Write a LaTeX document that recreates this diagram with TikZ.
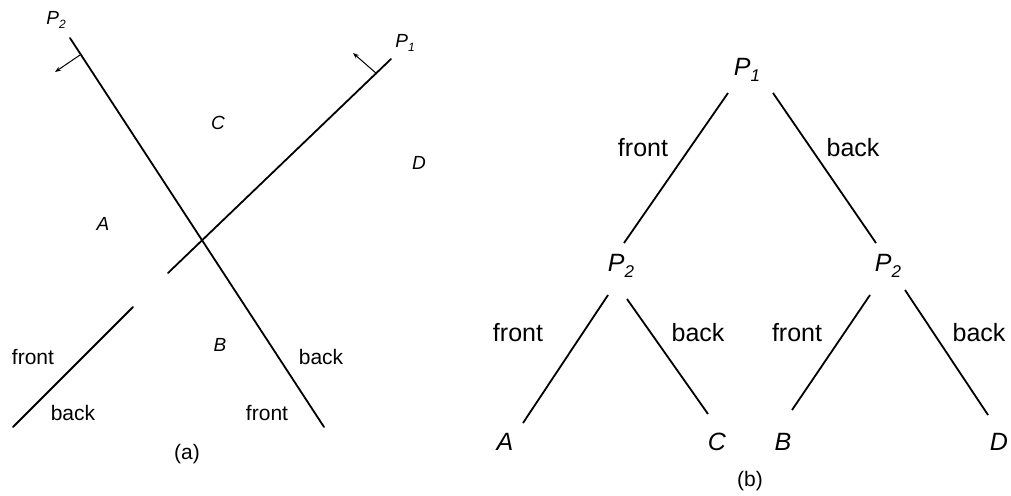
\documentclass[tikz,border=0pt]{standalone}
\usepackage{fontspec}
\setmainfont{Liberation Sans}
\usetikzlibrary{calc,arrows.meta}
\tikzset{
  seg/.style={line width=1.8pt, line cap=round},
  normalarrow/.style={line width=1pt, -{Stealth[length=6pt,width=4.5pt]}},
  lbl/.style={inner sep=0pt, font=\fontsize{21}{24}\selectfont},
  reg/.style={inner sep=0pt, font=\fontsize{19}{22}\selectfont\itshape},
  tlbl/.style={inner sep=0pt, font=\fontsize{25}{28}\selectfont},
  tnode/.style={inner sep=0pt, font=\fontsize{25}{28}\selectfont\itshape},
  edge/.style={line width=1.8pt}
}
\newcommand{\Plab}[2]{{\itshape P}\raisebox{-0.45ex}{\fontsize{#2}{#2}\selectfont #1}}
\begin{document}
\begin{tikzpicture}[x=1pt,y=-1pt]
\clip (0,0) rectangle (1011,495);
\fill[white] (0,0) rectangle (1011,495);
% ---------- (a) ----------
\coordinate (p2s) at (70,38);
\coordinate (p2e) at (324,427);
\coordinate (p1s) at (391,59);
\coordinate (p1e) at (168,273);
\coordinate (p1bs) at (133,307);
\coordinate (p1be) at (13,427);
\draw[seg] (p2s) -- (p2e);
\draw[seg] (p1s) -- (p1e);
\draw[seg] (p1bs) -- (p1be);
\coordinate (n2a) at (80,55);
\coordinate (n2b) at (55,72);
\coordinate (n1a) at (377,74);
\coordinate (n1b) at (353,53);
\draw[normalarrow] (n2a) -- (n2b);
\draw[normalarrow] (n1a) -- (n1b);
\node[reg] (lP2) at (56,20) {\Plab{2}{12}};
\node[reg] (lP1) at (405,43) {\Plab{1}{12}};
\node[reg] (lC) at (218,123) {C};
\node[reg] (lD) at (419,163) {D};
\node[reg] (lA) at (103,224) {A};
\node[reg] (lB) at (220,345) {B};
\node[lbl] (lf1) at (33,357) {front};
\node[lbl] (lb1) at (73,413) {back};
\node[lbl] (lb2) at (321,357) {back};
\node[lbl] (lf2) at (267,413) {front};
\node[lbl] (capa) at (187,454) {(a)};
% ---------- (b) ----------
\node[tnode] (P1) at (747,70) {\Plab{1}{17}};
\node[tnode] (P2a) at (621,266) {\Plab{2}{17}};
\node[tnode] (P2b) at (888,266) {\Plab{2}{17}};
\node[tnode] (A) at (505,442) {A};
\node[tnode] (C) at (717,442) {C};
\node[tnode] (B) at (783,442) {B};
\node[tnode] (D) at (999,442) {D};
\draw[edge] ($(P1)+(-19,23)$) -- ($(P2a)+(3,-23)$);
\draw[edge] ($(P1)+(26,23)$) -- ($(P2b)+(-12,-23)$);
\draw[edge] ($(P2a)+(-13,29)$) -- ($(A)+(18,-19)$);
\draw[edge] ($(P2a)+(6,33)$) -- ($(C)+(-9,-28)$);
\draw[edge] ($(P2b)+(-18,29)$) -- ($(B)+(9,-32)$);
\draw[edge] ($(P2b)+(17,24)$) -- ($(D)+(-11,-27)$);
\node[tlbl] (ef1) at (643,148) {front};
\node[tlbl] (eb1) at (853,148) {back};
\node[tlbl] (ef2) at (518,333) {front};
\node[tlbl] (eb2) at (698,333) {back};
\node[tlbl] (ef3) at (797,333) {front};
\node[tlbl] (eb3) at (979,333) {back};
\node[lbl] (capb) at (750,481) {(b)};
\end{tikzpicture}
\end{document}
